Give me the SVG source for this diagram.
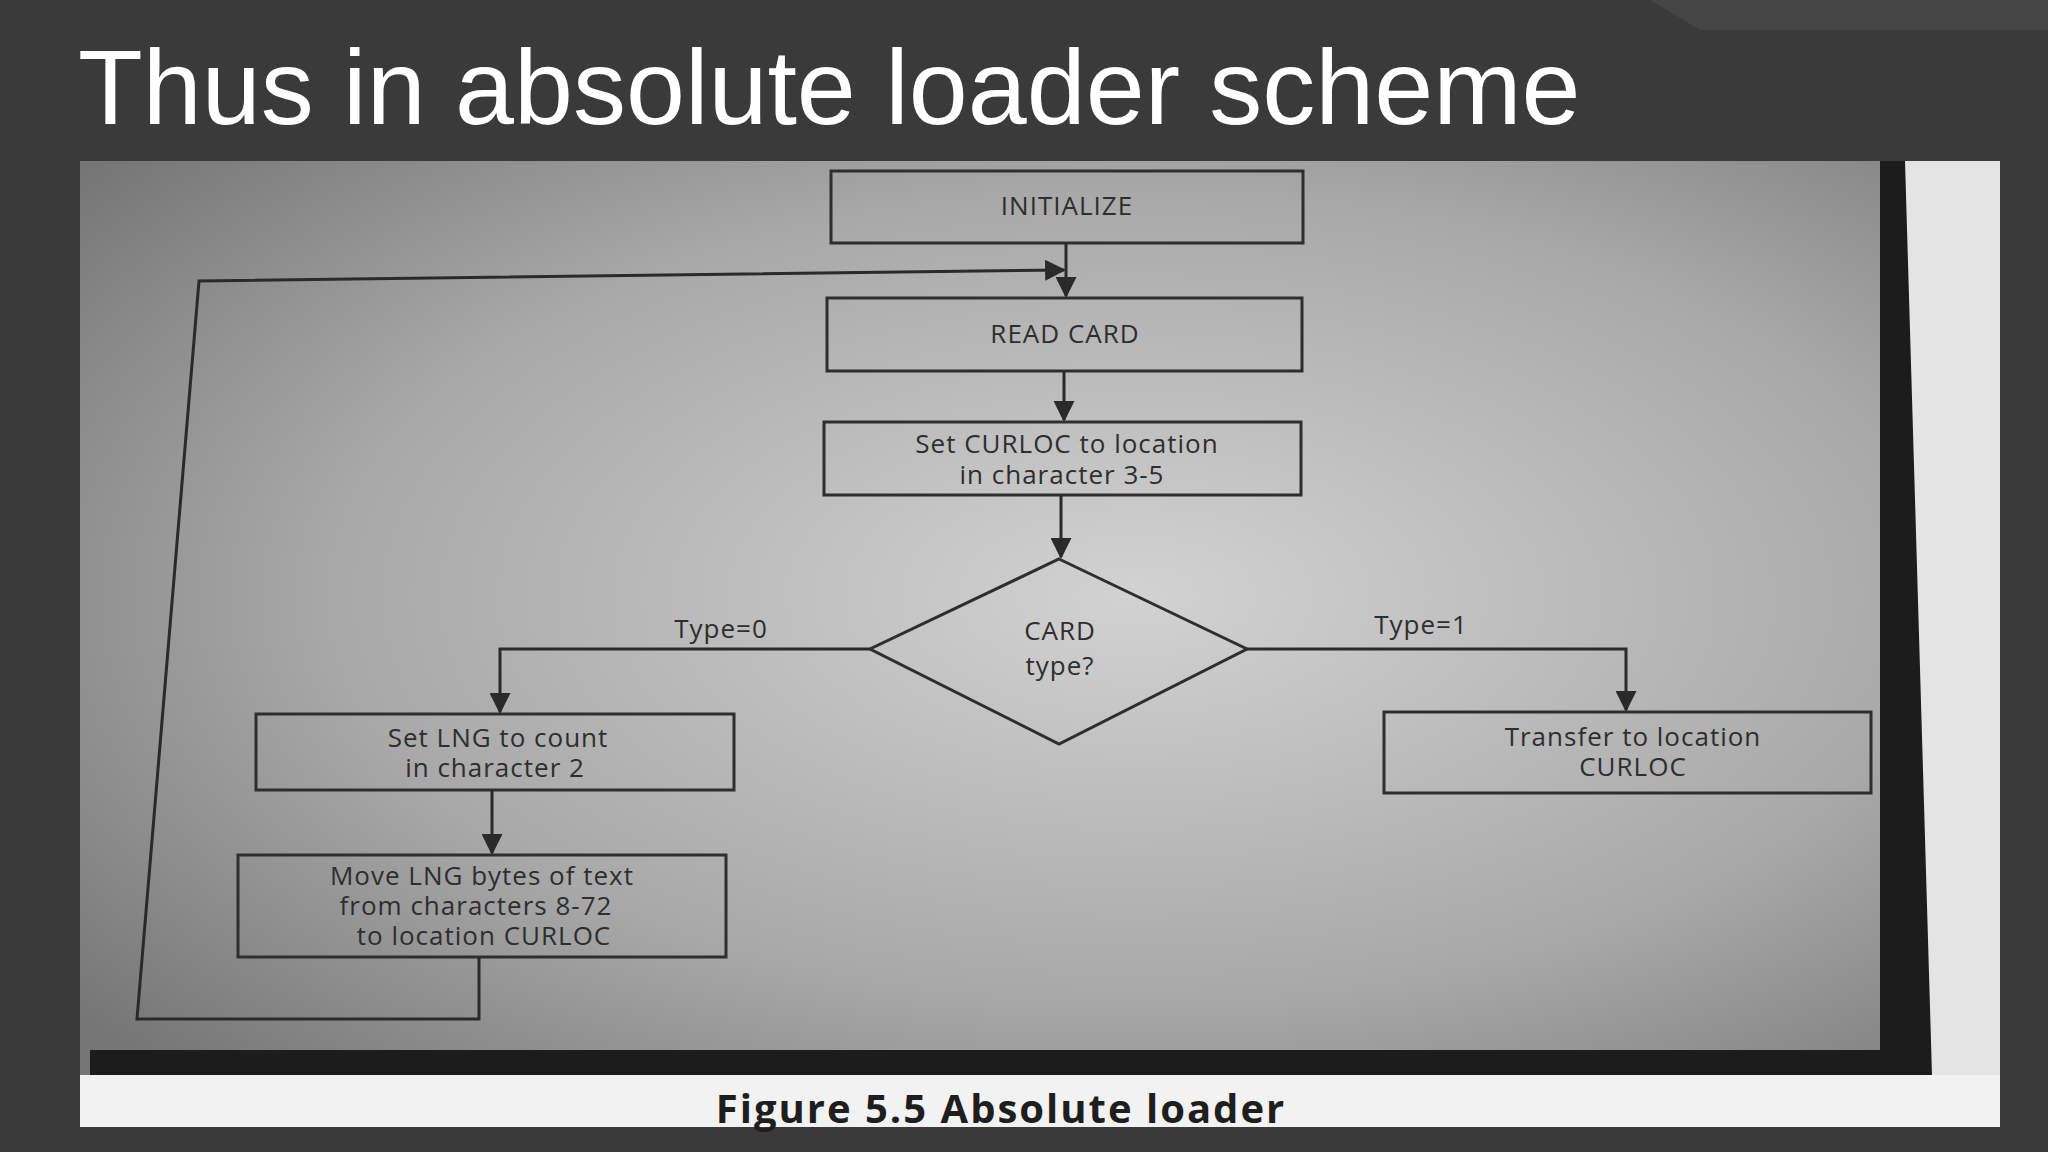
<svg xmlns="http://www.w3.org/2000/svg" width="2048" height="1152" viewBox="0 0 2048 1152">
<defs>
<radialGradient id="ph" cx="0.55" cy="0.45" r="0.7">
<stop offset="0" stop-color="#d2d2d2"/><stop offset="0.6" stop-color="#a8a8a8"/><stop offset="1" stop-color="#767676"/>
</radialGradient>
<marker id="ar" viewBox="0 0 10 10" refX="9" refY="5" markerWidth="7" markerHeight="7" orient="auto"><path d="M0,0L10,5L0,10z" fill="#2a2a2a"/></marker>
<style>
.b{fill:none;stroke:#2e2e2e;stroke-width:3}
.l{fill:none;stroke:#2a2a2a;stroke-width:3}
.t{font-family:"Open Sans","Liberation Sans",sans-serif;fill:#2e2e2e;font-size:26px;letter-spacing:1px;text-anchor:middle}
</style>
</defs>
<rect width="2048" height="1152" fill="#3a3a3a"/>
<polygon points="1650,0 2048,0 2048,30 1700,30" fill="#454545"/>
<text x="78" y="124" font-family="Liberation Sans,sans-serif" font-size="106" fill="#fff">Thus in absolute loader scheme</text>
<rect x="80" y="161" width="1920" height="966" fill="url(#ph)"/>
<rect x="1905" y="161" width="95" height="966" fill="#e4e4e4"/>
<polygon points="1880,161 1905,161 1932,1075 90,1075 90,1050 1880,1050" fill="#1c1c1c"/>
<rect x="80" y="1075" width="1920" height="52" fill="#f2f2f2"/>
<g id="n1"><rect class="b" x="831" y="171" width="472" height="72"/><text class="t" x="1067" y="215" font-size="22">INITIALIZE</text></g>
<g id="n2"><rect class="b" x="827" y="298" width="475" height="73"/><text class="t" x="1065" y="343">READ CARD</text></g>
<g id="n3"><rect class="b" x="824" y="422" width="477" height="73"/><text class="t" x="1067" y="453">Set CURLOC to location</text><text class="t" x="1062" y="484">in character 3-5</text></g>
<g id="n4"><polygon class="b" points="1059,559 1247,649 1059,744 870,649"/><text class="t" x="1060" y="640">CARD</text><text class="t" x="1060" y="675">type?</text></g>
<g id="n5"><rect class="b" x="256" y="714" width="478" height="76"/><text class="t" x="498" y="747">Set LNG to count</text><text class="t" x="495" y="777">in character 2</text></g>
<g id="n6"><rect class="b" x="238" y="855" width="488" height="102"/><text class="t" x="482" y="885">Move LNG bytes of text</text><text class="t" x="476" y="915">from characters 8-72</text><text class="t" x="484" y="945">to location CURLOC</text></g>
<g id="n7"><rect class="b" x="1384" y="712" width="487" height="81"/><text class="t" x="1633" y="746">Transfer to location</text><text class="t" x="1633" y="776">CURLOC</text></g>
<g id="edges">
<line class="l" x1="1066" y1="243" x2="1066" y2="296" marker-end="url(#ar)"/>
<line class="l" x1="1064" y1="371" x2="1064" y2="420" marker-end="url(#ar)"/>
<line class="l" x1="1061" y1="495" x2="1061" y2="557" marker-end="url(#ar)"/>
<polyline class="l" points="870,649 500,649 500,712" marker-end="url(#ar)"/>
<polyline class="l" points="1247,649 1626,649 1626,710" marker-end="url(#ar)"/>
<line class="l" x1="492" y1="790" x2="492" y2="853" marker-end="url(#ar)"/>
<polyline class="l" points="479,957 479,1019 137,1019 199,281 1064,270" marker-end="url(#ar)"/>
<text class="t" x="721" y="638">Type=0</text>
<text class="t" x="1421" y="634">Type=1</text>
</g>
<text x="1001" y="1123" font-family="Open Sans,Liberation Sans,sans-serif" font-weight="bold" font-size="40" letter-spacing="2" fill="#1e1e1e" text-anchor="middle">Figure  5.5 Absolute loader</text>
</svg>
